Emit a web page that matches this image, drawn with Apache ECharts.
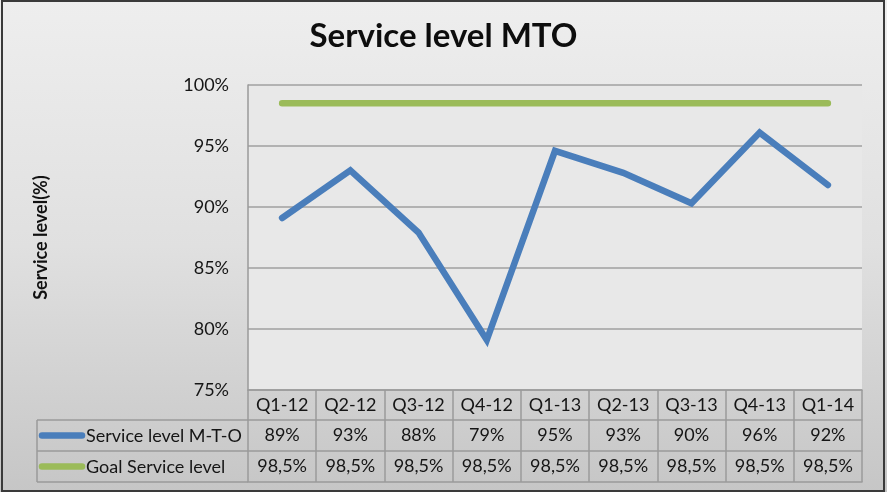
<!DOCTYPE html>
<html>
<head>
<meta charset="utf-8">
<script src="https://cdn.jsdelivr.net/npm/echarts@6/dist/echarts.min.js"></script>
<style>
html,body{margin:0;padding:0;background:#fff;}
#c{width:887px;height:492px;}
</style>
</head>
<body>
<div id="c"></div>
<script>
var categories = ['Q1-12','Q2-12','Q3-12','Q4-12','Q1-13','Q2-13','Q3-13','Q4-13','Q1-14'];
var serviceLevel = [89.1, 93.0, 87.9, 79.1, 94.6, 92.8, 90.3, 96.1, 91.8];
var goalLevel = [98.5, 98.5, 98.5, 98.5, 98.5, 98.5, 98.5, 98.5, 98.5];
var seriesNames = ['Service level M-T-O', 'Goal Service level'];
var yTicks = {min: 75, max: 100, interval: 5};

var FONT = 'Lato';
var TXT = '#151515';
var BORDER = '#9a9a9a';
var FS = 18;

function fmtService(v){ return Math.round(v) + '%'; }
function fmtGoal(v){ return v.toFixed(1).replace('.', ',') + '%'; }

var chart = echarts.init(document.getElementById('c'), null, {renderer:'canvas'});

var baseX = {
  type: 'category', data: categories, gridIndex: 0, position: 'bottom',
  boundaryGap: true,
  axisLine: {show: true, lineStyle: {color: BORDER, width: 1.5}},
  axisTick: {show: false},
  splitLine: {show: false}
};

var option = {
  backgroundColor: {
    type: 'linear', x: 0, y: 0, x2: 0, y2: 1,
    colorStops: [{offset: 0, color: '#eeeeee'}, {offset: 0.5, color: '#e0e0e0'}, {offset: 1, color: '#c6c6c6'}]
  },
  animation: false,
  title: {
    text: 'Service level MTO', left: 'center', top: 15,
    textStyle: {fontFamily: FONT, fontWeight: 'bold', fontSize: 33, color: '#0d0d0d'}
  },
  grid: {
    left: 248, right: 25, top: 85, bottom: 102,
    show: true, backgroundColor: '#e8e8e8', borderWidth: 0
  },
  xAxis: [
    Object.assign({}, baseX, {
      axisTick: {show: true, interval: 0, length: 92, lineStyle: {color: BORDER, width: 1.5}},
      axisLabel: {interval: 0, margin: 6, fontFamily: FONT, fontSize: FS, color: TXT}
    }),
    Object.assign({}, baseX, {
      offset: 30,
      axisLabel: {interval: 0, margin: 6, fontFamily: FONT, fontSize: FS, color: TXT,
        formatter: function(v, i){ return fmtService(serviceLevel[i]); }}
    }),
    Object.assign({}, baseX, {
      offset: 61,
      axisLabel: {interval: 0, margin: 6, fontFamily: FONT, fontSize: FS, color: TXT,
        formatter: function(v, i){ return fmtGoal(goalLevel[i]); }}
    }),
    Object.assign({}, baseX, {
      offset: 92,
      axisLabel: {show: false}
    })
  ],
  yAxis: {
    type: 'value', min: yTicks.min, max: yTicks.max, interval: yTicks.interval,
    name: 'Service level(%)', nameLocation: 'middle', nameGap: 198, nameRotate: 90,
    nameTextStyle: {fontFamily: FONT, fontWeight: 'bold', fontSize: 18, color: '#111'},
    axisLine: {show: true, lineStyle: {color: BORDER, width: 1.5}},
    axisTick: {show: false},
    axisLabel: {margin: 19, fontFamily: FONT, fontSize: FS, color: TXT, formatter: '{value}%'},
    splitLine: {show: true, lineStyle: {color: '#a0a0a0', width: 1.5}}
  },
  series: [
    {
      name: seriesNames[0], type: 'line', data: serviceLevel, xAxisIndex: 0,
      symbol: 'none', lineStyle: {color: '#4a7ebb', width: 6.5, cap: 'round', join: 'miter'}
    },
    {
      name: seriesNames[1], type: 'line', data: goalLevel, xAxisIndex: 0,
      symbol: 'none', lineStyle: {color: '#9bbb59', width: 6.5, cap: 'round'}
    }
  ],
  graphic: [
    {type: 'rect', shape: {x: 2, y: 1, width: 882, height: 490}, silent: true,
      style: {fill: 'none', stroke: '#3a3a3a', lineWidth: 2}},
    {type: 'line', shape: {x1: 37, y1: 420, x2: 248, y2: 420}, style: {stroke: BORDER, lineWidth: 1.5}},
    {type: 'line', shape: {x1: 37, y1: 451, x2: 248, y2: 451}, style: {stroke: BORDER, lineWidth: 1.5}},
    {type: 'line', shape: {x1: 37, y1: 482, x2: 248, y2: 482}, style: {stroke: BORDER, lineWidth: 1.5}},
    {type: 'line', shape: {x1: 37, y1: 420, x2: 37, y2: 482}, style: {stroke: BORDER, lineWidth: 1.5}},
    {type: 'line', shape: {x1: 42, y1: 435.5, x2: 82, y2: 435.5}, style: {stroke: '#4a7ebb', lineWidth: 6.5, lineCap: 'round'}},
    {type: 'line', shape: {x1: 42, y1: 466.5, x2: 82, y2: 466.5}, style: {stroke: '#9bbb59', lineWidth: 6.5, lineCap: 'round'}},
    {type: 'text', x: 86, y: 436, style: {text: seriesNames[0], fontFamily: FONT, fontSize: FS, fill: TXT, textVerticalAlign: 'middle', verticalAlign: 'middle'}},
    {type: 'text', x: 86, y: 467, style: {text: seriesNames[1], fontFamily: FONT, fontSize: FS, fill: TXT, textVerticalAlign: 'middle', verticalAlign: 'middle'}}
  ]
};
chart.setOption(option);
</script>
</body>
</html>
